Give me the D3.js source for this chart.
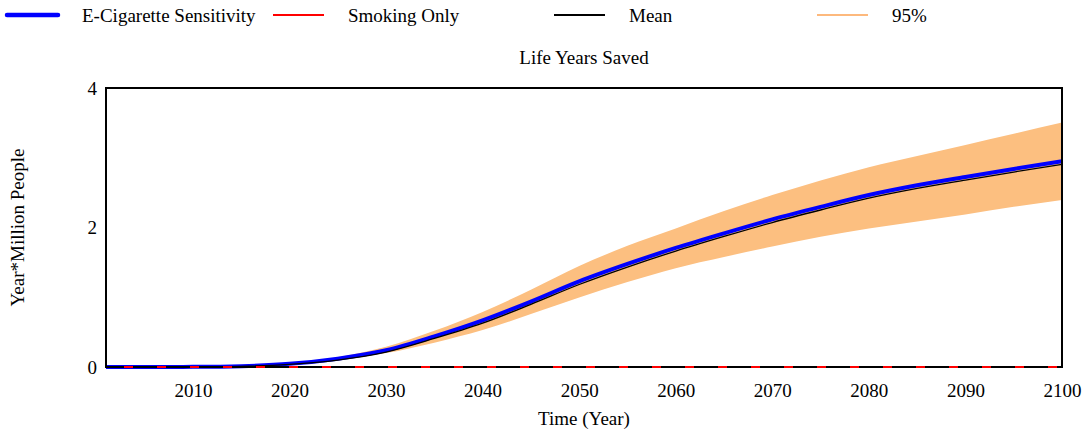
<!DOCTYPE html>
<html>
<head>
<meta charset="utf-8">
<script src="https://cdn.jsdelivr.net/npm/d3@7"></script>
<style>
    body { margin: 0; background: #fff; }
    svg text { font-family: "Liberation Serif", "Times New Roman", serif; fill: #000; }
</style>
</head>
<body>
<div id="chart"></div>
<script>
// values (Year*Million People)
let years       = [2001, 2005, 2010, 2015, 2020, 2025, 2030, 2035, 2040, 2045, 2050, 2055, 2060, 2065, 2070, 2075, 2080, 2085, 2090, 2095, 2100];
let eCigarette  = [0, 0, 0.002, 0.012, 0.045, 0.12, 0.24, 0.44, 0.67, 0.94, 1.23, 1.48, 1.71, 1.92, 2.12, 2.30, 2.47, 2.61, 2.73, 2.845, 2.955];
let smokingOnly = [0, 0, 0, 0, 0, 0, 0, 0, 0, 0, 0, 0, 0, 0, 0, 0, 0, 0, 0, 0, 0];
let meanValues  = [0, 0, 0.001, 0.009, 0.038, 0.10, 0.215, 0.41, 0.63, 0.90, 1.185, 1.435, 1.665, 1.875, 2.075, 2.255, 2.425, 2.565, 2.685, 2.80, 2.91];
let upper95     = [0, 0, 0.003, 0.015, 0.05, 0.14, 0.29, 0.52, 0.79, 1.11, 1.45, 1.74, 1.99, 2.24, 2.47, 2.68, 2.87, 3.03, 3.19, 3.35, 3.51];
let lower95     = [0, 0, 0.001, 0.009, 0.035, 0.10, 0.20, 0.35, 0.53, 0.76, 1.00, 1.22, 1.42, 1.58, 1.73, 1.87, 1.99, 2.09, 2.19, 2.30, 2.40];

let xTicks = [2010, 2020, 2030, 2040, 2050, 2060, 2070, 2080, 2090, 2100];
let yTicks = [0, 2, 4];

let legendItems = [
    { label: "E-Cigarette Sensitivity", color: "#0000ff", width: 4.5 },
    { label: "Smoking Only", color: "#ff0000", width: 2 },
    { label: "Mean", color: "#000000", width: 2 },
    { label: "95%", color: "#fdb97d", width: 2 }
];

let width = 1084, height = 443;
let margin = { top: 88, right: 22, bottom: 76, left: 106 };
let serif = '"Liberation Serif", "Times New Roman", serif';

let svg = d3.select("#chart").append("svg")
    .attr("width", width)
    .attr("height", height)
    .attr("font-family", serif);

let x = d3.scaleLinear().domain([2001, 2100]).range([margin.left, width - margin.right]);
let y = d3.scaleLinear().domain([0, 4]).range([height - margin.bottom, margin.top + 0.5]);

let rows = years.map((yr, i) => ({
    year: yr,
    ecig: eCigarette[i],
    smoke: smokingOnly[i],
    mean: meanValues[i],
    hi: upper95[i],
    lo: lower95[i]
}));

// legend
let legend = svg.append("g").attr("class", "legend");
let legendX = [7, 273, 554, 817];
legendItems.forEach(function (item, i) {
    let g = legend.append("g").attr("transform", `translate(${legendX[i]}, 15)`);
    g.append("line")
        .attr("x1", 0).attr("x2", 51)
        .attr("stroke", item.color)
        .attr("stroke-width", item.width)
        .attr("stroke-linecap", i == 0 ? "round" : "butt");
    g.append("text")
        .attr("x", 75).attr("y", 7)
        .style("font-family", serif)
        .style("font-size", "19px")
        .text(item.label);
});

// title
svg.append("text")
    .attr("x", (margin.left + width - margin.right) / 2)
    .attr("y", 64)
    .attr("text-anchor", "middle")
    .style("font-family", serif)
    .style("font-size", "19px")
    .text("Life Years Saved");

let plot = svg.append("g").attr("class", "plot");

// 95% band
plot.append("path")
    .datum(rows)
    .attr("fill", "#fcbf80")
    .attr("d", d3.area()
        .x(d => x(d.year))
        .y0(d => y(d.lo))
        .y1(d => y(d.hi))
        .curve(d3.curveMonotoneX));

let line = key => d3.line()
    .x(d => x(d.year))
    .y(d => y(d[key]))
    .curve(d3.curveMonotoneX);

plot.append("path")
    .datum(rows)
    .attr("fill", "none")
    .attr("stroke", "#0000ff")
    .attr("stroke-width", 4)
    .attr("d", line("ecig"));

plot.append("path")
    .datum(rows)
    .attr("fill", "none")
    .attr("stroke", "#000")
    .attr("stroke-width", 1.3)
    .attr("d", line("mean"));

// frame
svg.append("rect")
    .attr("x", margin.left)
    .attr("y", margin.top)
    .attr("width", width - margin.left - margin.right)
    .attr("height", height - margin.top - margin.bottom)
    .attr("fill", "none")
    .attr("stroke", "#000")
    .attr("stroke-width", 2);

// smoking only sits on the zero line, over the frame
svg.append("path")
    .datum(rows)
    .attr("fill", "none")
    .attr("stroke", "#ff0000")
    .attr("stroke-width", 2)
    .attr("stroke-dasharray", "9,24")
    .attr("stroke-dashoffset", -150)
    .attr("d", line("smoke"));

// axes
let xAxis = svg.append("g")
    .attr("transform", `translate(0, ${height - margin.bottom})`)
    .call(d3.axisBottom(x).tickValues(xTicks).tickFormat(d3.format("d")).tickSize(0).tickPadding(17));
xAxis.select(".domain").remove();
xAxis.attr("font-family", serif);
xAxis.selectAll("text").style("font-size", "19px").style("font-family", serif);

let yAxis = svg.append("g")
    .attr("transform", `translate(${margin.left}, 0)`)
    .call(d3.axisLeft(y).tickValues(yTicks).tickFormat(d3.format("d")).tickSize(0).tickPadding(9));
yAxis.select(".domain").remove();
yAxis.attr("font-family", serif);
yAxis.selectAll("text").style("font-size", "19px").style("font-family", serif);

// axis titles
svg.append("text")
    .attr("x", (margin.left + width - margin.right) / 2)
    .attr("y", 425)
    .attr("text-anchor", "middle")
    .style("font-family", serif)
    .style("font-size", "19px")
    .text("Time (Year)");

svg.append("text")
    .attr("transform", `translate(24, ${(margin.top + height - margin.bottom) / 2}) rotate(-90)`)
    .attr("text-anchor", "middle")
    .style("font-family", serif)
    .style("font-size", "19px")
    .text("Year*Million People");
</script>
</body>
</html>
